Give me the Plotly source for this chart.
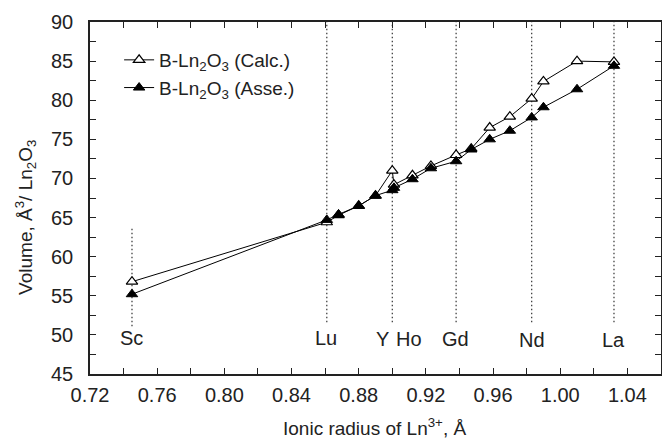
import plotly.graph_objects as go

# Ionic radii (Å) of Ln3+ : Sc, Lu, Yb, Tm, Er, Y, Ho, Dy, Tb, Gd, Eu, Sm, Pm, Nd, Pr, Ce, La
radius = [0.745, 0.861, 0.868, 0.880, 0.890, 0.900, 0.901, 0.912, 0.923,
          0.938, 0.947, 0.958, 0.970, 0.983, 0.990, 1.010, 1.032]
vol_calc = [56.8, 64.4, 65.3, 66.5, 67.8, 71.0, 69.2, 70.4, 71.6,
            73.0, 73.8, 76.5, 77.9, 80.2, 82.4, 85.0, 84.9]
vol_asse = [55.2, 64.7, 65.4, 66.5, 67.8, 68.5, 68.8, 69.9, 71.3,
            72.2, 73.7, 75.0, 76.1, 77.8, 79.1, 81.4, 84.4]

# element labels and guide lines
label_text = ["Sc", "Lu", "Y", "Ho", "Gd", "Nd", "La"]
label_x = [0.745, 0.8605, 0.894, 0.910, 0.9377, 0.983, 1.032]
label_y = [49.55, 49.55, 49.5, 49.5, 49.5, 49.3, 49.3]
guide_x = [0.745, 0.861, 0.900, 0.938, 0.983, 1.032]
guide_top = [63.9, 90, 90, 90, 90, 90]
guide_bottom = [51.1, 51.6, 51.6, 51.6, 51.6, 51.6]

x_tickvals = [round(0.72 + 0.02 * i, 2) for i in range(18)]
x_ticktext = [f"{v:.2f}" if i % 2 == 0 else "" for i, v in enumerate(x_tickvals)]
y_tickvals = [45 + 2.5 * i for i in range(19)]
y_ticktext = [f"{int(v)}" if i % 2 == 0 else "" for i, v in enumerate(y_tickvals)]

FONT = "Liberation Sans, Arial, sans-serif"
TXT = "#222222"

fig = go.Figure()
fig.add_trace(go.Scatter(
    x=radius, y=vol_calc, mode="lines+markers",
    name="B-Ln<sub>2</sub>O<sub>3</sub> (Calc.)",
    line=dict(color="black", width=1),
    marker=dict(symbol="triangle-up", size=10, color="white",
                line=dict(color="black", width=1.2)),
))
fig.add_trace(go.Scatter(
    x=radius, y=vol_asse, mode="lines+markers",
    name="B-Ln<sub>2</sub>O<sub>3</sub> (Asse.)",
    line=dict(color="black", width=1),
    marker=dict(symbol="triangle-up", size=10, color="black",
                line=dict(color="black", width=1)),
))

for gx, gt, gb in zip(guide_x, guide_top, guide_bottom):
    fig.add_shape(type="line", x0=gx, x1=gx, y0=gb, y1=gt, xref="x", yref="y",
                  line=dict(color="#333333", width=1.2, dash="1.5px,2.5px"), layer="below")

for t, lx, ly in zip(label_text, label_x, label_y):
    fig.add_annotation(x=lx, y=ly, text=t, showarrow=False, xref="x", yref="y",
                       xanchor="center", yanchor="middle",
                       font=dict(size=20, color=TXT, family=FONT))

fig.add_annotation(x=0.499, y=-0.15, xref="paper", yref="paper", showarrow=False,
                   xanchor="center", yanchor="middle",
                   text="Ionic radius of Ln<sup>3+</sup>, Å",
                   font=dict(size=19, color=TXT, family=FONT))
fig.add_annotation(x=-0.114, y=0.446, xref="paper", yref="paper", showarrow=False,
                   xanchor="center", yanchor="middle", textangle=-90,
                   text="Volume, Å<sup>3</sup>/ Ln<sub>2</sub>O<sub>3</sub>",
                   font=dict(size=19, color=TXT, family=FONT))

axis_common = dict(showgrid=False, zeroline=False, showline=True, linecolor="#222222",
                   linewidth=1.5, mirror="ticks", ticks="inside", ticklen=6,
                   tickwidth=1.3, tickcolor="#222222", automargin=False,
                   tickfont=dict(size=20, color=TXT, family=FONT))
fig.update_xaxes(range=[0.72, 1.06], tickmode="array", tickvals=x_tickvals,
                 ticktext=x_ticktext, ticklabelstandoff=2, **axis_common)
fig.update_yaxes(range=[45, 90], tickmode="array", tickvals=y_tickvals,
                 ticktext=y_ticktext, ticklabelstandoff=11, **axis_common)

fig.update_layout(
    width=662, height=441,
    margin=dict(l=90, r=1, t=22, b=67, autoexpand=False),
    paper_bgcolor="white", plot_bgcolor="white",
    font=dict(family=FONT, color=TXT),
    showlegend=True,
    legend=dict(x=0.051, y=0.946, xanchor="left", yanchor="top",
                bgcolor="rgba(0,0,0,0)", font=dict(size=19, color=TXT, family=FONT)),
)

fig.write_html("out.html", config={"displayModeBar": False},
               post_script="document.body.style.margin='0px';document.body.style.overflow='hidden';")
